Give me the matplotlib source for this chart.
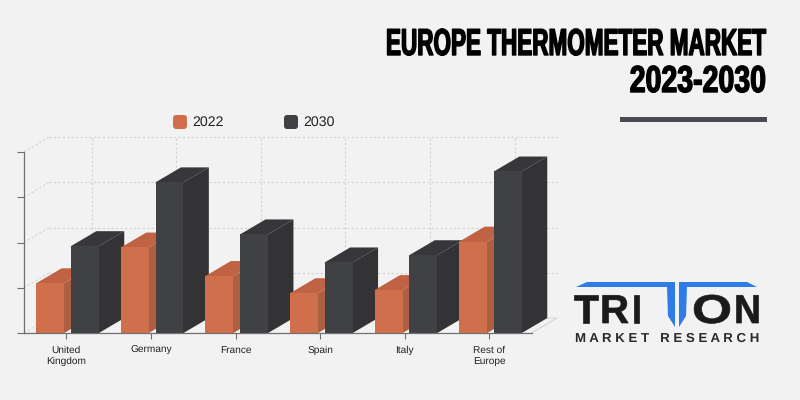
import matplotlib
matplotlib.use("Agg")
import matplotlib.pyplot as plt
import matplotlib.patheffects as pe
from matplotlib.patches import FancyBboxPatch, Polygon, Rectangle
from matplotlib.transforms import Affine2D

categories = ["United\nKingdom", "Germany", "France", "Spain", "Italy", "Rest of\nEurope"]
values_2022 = [1.10, 1.89, 1.26, 0.88, 0.95, 2.02]
values_2030 = [1.92, 3.33, 2.18, 1.56, 1.72, 3.57]
y_ticks = [0, 1, 2, 3, 4]

BG = "#f2f2f2"
ORANGE = ("#cf6f4c", "#ad5f41", "#bf6344")  # front, side, top
DARK = ("#404145", "#333336", "#37373b")
GRID = "#d2d2d2"
AXIS = "#707070"

# depth of the fake 3d, in data units
DX = 0.30
DY = 0.33
BAR_W = 0.33


class Squeeze(pe.AbstractPathEffect):
    # scales text sideways around x0 (pixels) and fattens it a bit
    def __init__(self, sx, x0, bold=0.0):
        super().__init__()
        self.sx, self.x0, self.bold = sx, x0, bold

    def draw_path(self, renderer, gc, tpath, affine, rgbFace=None):
        a = affine + Affine2D().translate(-self.x0, 0).scale(self.sx, 1).translate(self.x0, 0)
        gc0 = renderer.new_gc()
        gc0.copy_properties(gc)
        gc0.set_linewidth(self.bold)
        gc0.set_foreground(rgbFace)
        renderer.draw_path(gc0, tpath, a, rgbFace)
        gc0.restore()


plt.rcParams["font.family"] = ["Liberation Sans", "DejaVu Sans"]
plt.rcParams["text.hinting"] = "no_hinting"

fig = plt.figure(figsize=(8, 4), dpi=100, facecolor=BG)
px = Affine2D().scale(1, -1).translate(0, 400)  # figure pixels from top left


def draw_bars(ax, x, val, cols, z):
    ax.bar(x, val, BAR_W, color=cols[0], zorder=z + 0.2)
    l, r = x - BAR_W / 2, x + BAR_W / 2
    # side starts a little under the front so no seam shows
    ax.add_patch(Polygon([(r - 0.02, 0), (r, 0), (r + DX, DY), (r + DX, val + DY), (r, val), (r - 0.02, val)],
                         fc=cols[1], ec="none", zorder=z, clip_on=False))
    ax.add_patch(Polygon([(l, val - 0.02), (l, val), (l + DX, val + DY), (r + DX, val + DY), (r, val), (r, val - 0.02)],
                         fc=cols[2], ec="none", zorder=z + 0.1, clip_on=False))


ax = fig.add_axes([24 / 800, 67 / 400, 507.6 / 800, 181 / 400])
ax.patch.set_visible(False)
ax.set_xlim(-0.5, 5.5)
ax.set_ylim(0, 4)

# back wall grid
dash = dict(color=GRID, lw=0.8, ls=(0, (2, 2)), zorder=1, clip_on=False)
for v in y_ticks:
    ax.plot([-0.5, -0.5 + DX], [v, v + DY], **dash)
    if v > 0:
        ax.plot([-0.5 + DX, 5.5 + DX], [v + DY, v + DY], **dash)
for i in range(len(categories)):
    ax.plot([i + DX, i + DX], [DY, 4 + DY], **dash)
ax.plot([5.5, 5.5 + DX, 5.5 + DX - 0.5], [0, DY, DY], color="#d8d8d8", lw=0.9, zorder=1, clip_on=False)

for i in range(len(categories)):
    draw_bars(ax, i - 0.19, values_2022[i], ORANGE, 3 + i * 2)
    draw_bars(ax, i + 0.22, values_2030[i], DARK, 4 + i * 2)

ax.set_xticks(range(len(categories)))
ax.set_xticklabels(categories, fontsize=7.3, color="#222222", linespacing=1.3)
ax.set_yticks(y_ticks)
ax.set_yticklabels([])
ax.tick_params(axis="x", length=4, width=0.8, color=AXIS, pad=5)
ax.tick_params(axis="y", length=5, width=0.8, color=AXIS)
for s in ["top", "right"]:
    ax.spines[s].set_visible(False)
for s in ["left", "bottom"]:
    ax.spines[s].set_color(AXIS)
    ax.spines[s].set_linewidth(0.9)
    ax.spines[s].set_zorder(30)

# legend
for x0, col, lab in [(173, ORANGE[0], "2022"), (284, DARK[0], "2030")]:
    fig.add_artist(FancyBboxPatch((x0 + 2, 117), 10, 10, boxstyle="round,pad=2,rounding_size=3",
                                  fc=col, ec="none", transform=px))
    fig.text((x0 + 19) / 800, 1 - 122 / 400, lab, fontsize=10.2, color="#222222", va="center", ha="left")

# title
fig.text(766 / 800, 1 - 55 / 400, "EUROPE THERMOMETER MARKET", fontsize=27, fontweight="bold",
         color="black", ha="right", va="baseline",
         path_effects=[Squeeze(0.6, 766, 1.0)])
fig.text(766 / 800, 1 - 92 / 400, "2023-2030", fontsize=27, fontweight="bold",
         color="black", ha="right", va="baseline",
         path_effects=[Squeeze(0.76, 766, 1.0)])
fig.add_artist(Rectangle((620, 117), 147, 5, fc="#4a4a52", ec="none", transform=px))

# logo
BLUE = "#2f7be8"
fig.add_artist(Polygon([(576, 287), (587, 282), (675, 282), (675, 327), (668, 316), (667, 287)],
                       fc=BLUE, ec="none", transform=px))
fig.add_artist(Polygon([(679, 282), (747, 282), (757, 287), (687, 287), (686, 316), (679, 327)],
                       fc=BLUE, ec="none", transform=px))
for x0, letter, sx in [(586, "T", 1.0), (614.5, "R", 1.0), (636.5, "I", 1.0), (712, "O", 1.28), (747.5, "N", 0.92)]:
    fig.text(x0 / 800, 1 - 323 / 400, letter, fontsize=29, fontweight="bold", color="#1b1b1b",
             ha="center", va="baseline", path_effects=[Squeeze(sx, x0, 0.5)])
fig.text(667.5 / 800, 1 - 342 / 400, "M A R K E T   R E S E A R C H", fontsize=9.5, fontweight="bold",
         color="#2a2a2a", ha="center", va="baseline")

fig.savefig("out.png", dpi=100, facecolor=BG)
